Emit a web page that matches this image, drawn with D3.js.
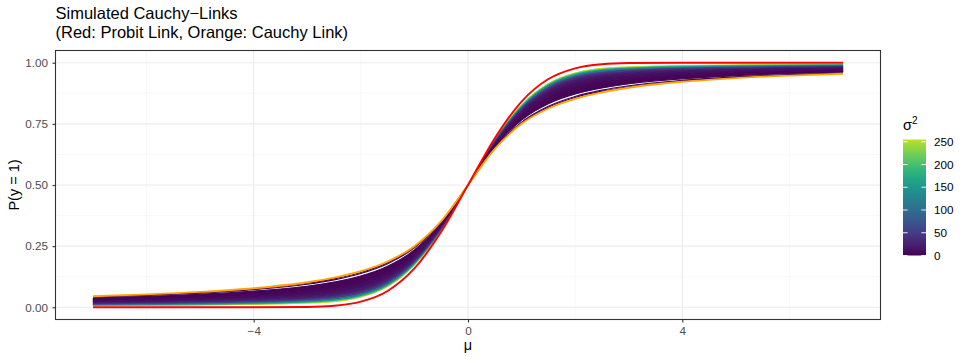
<!DOCTYPE html>
<html>
<head>
<meta charset="utf-8">
<script src="https://cdn.jsdelivr.net/npm/d3@7"></script>
<style>
  body { margin: 0; background: #fff; }
  svg { display: block; font-family: "Liberation Sans", Arial, Helvetica, sans-serif; }
</style>
</head>
<body>
<div id="chart"></div>
<script>
// mu grid shared by every curve
const mu = [-7, -6, -5, -4, -3, -2.5, -2, -1.5, -1, -0.5, 0, 0.5, 1, 1.5, 2, 2.5, 3, 4, 5, 6, 7];

// red: probit link
const probit = [0, 0, 0, 0.00003, 0.0013, 0.0062, 0.0228, 0.0668, 0.1587, 0.3085, 0.5,
  0.6915, 0.8413, 0.9332, 0.9772, 0.9938, 0.9987, 1, 1, 1, 1];

// orange: cauchy link
const cauchy = [0.0452, 0.0526, 0.0628, 0.0780, 0.1024, 0.1211, 0.1476, 0.1872, 0.25, 0.3524, 0.5,
  0.6476, 0.75, 0.8128, 0.8524, 0.8789, 0.8976, 0.9220, 0.9372, 0.9474, 0.9548];

// simulated curves (dense part of the band), sigma^2 of each
const simSigma2 = [255, 200, 150, 100, 50, 25, 12, 6, 3, 1.5];
const simCurves = [
  [0.007,0.008,0.009,0.012,0.017,0.023,0.042,0.085,0.172,0.315,0.5,0.685,0.828,0.915,0.958,0.977,0.983,0.988,0.991,0.992,0.993],
  [0.008,0.009,0.011,0.014,0.020,0.027,0.045,0.088,0.175,0.316,0.5,0.684,0.825,0.912,0.955,0.973,0.980,0.986,0.989,0.991,0.992],
  [0.009,0.011,0.013,0.016,0.023,0.030,0.049,0.092,0.178,0.318,0.5,0.682,0.822,0.908,0.951,0.970,0.977,0.984,0.987,0.989,0.991],
  [0.011,0.013,0.016,0.020,0.027,0.035,0.054,0.097,0.182,0.320,0.5,0.680,0.818,0.903,0.946,0.965,0.973,0.980,0.984,0.987,0.989],
  [0.014,0.016,0.019,0.023,0.032,0.041,0.060,0.103,0.186,0.322,0.5,0.678,0.814,0.897,0.940,0.959,0.968,0.977,0.981,0.984,0.986],
  [0.017,0.020,0.024,0.030,0.040,0.050,0.070,0.113,0.193,0.325,0.5,0.675,0.807,0.887,0.930,0.950,0.960,0.970,0.976,0.980,0.983],
  [0.022,0.025,0.030,0.037,0.050,0.061,0.083,0.125,0.202,0.330,0.5,0.670,0.798,0.875,0.917,0.939,0.950,0.963,0.970,0.975,0.978],
  [0.027,0.032,0.038,0.047,0.062,0.075,0.098,0.139,0.214,0.335,0.5,0.665,0.786,0.861,0.902,0.925,0.938,0.953,0.962,0.968,0.973],
  [0.033,0.038,0.045,0.056,0.074,0.089,0.113,0.153,0.224,0.340,0.5,0.660,0.776,0.847,0.887,0.911,0.926,0.944,0.955,0.962,0.967],
  [0.038,0.044,0.053,0.066,0.086,0.103,0.128,0.168,0.235,0.345,0.5,0.655,0.765,0.832,0.872,0.897,0.914,0.934,0.947,0.956,0.962]
];

// a few sparse curves close to the cauchy line
const sparseSigma2 = [0.6, 0.3];
const sparseCurves = [
  [0.042,0.048,0.058,0.072,0.094,0.112,0.138,0.178,0.243,0.349,0.5,0.651,0.757,0.822,0.862,0.888,0.906,0.928,0.942,0.952,0.958],
  [0.043,0.050,0.060,0.074,0.098,0.116,0.142,0.182,0.246,0.350,0.5,0.650,0.754,0.818,0.858,0.884,0.902,0.926,0.940,0.950,0.957]
];

const xTicks = [-4, 0, 4];
const xMinor = [-6, -2, 2, 6];
const yTicks = [0, 0.25, 0.5, 0.75, 1];
const yMinor = [0.125, 0.375, 0.625, 0.875];
const legendTicks = [0, 50, 100, 150, 200, 250];

const width = 969, height = 363;
const panel = { left: 55.5, right: 880.5, top: 50.5, bottom: 319.5 };

const svg = d3.select("#chart").append("svg")
  .attr("width", width)
  .attr("height", height);

const x = d3.scaleLinear().domain([-7.7, 7.7]).range([panel.left, panel.right]);
const y = d3.scaleLinear().domain([-0.05, 1.05]).range([panel.bottom, panel.top]);

const sigmaMax = 255;
const color = s => d3.interpolateViridis(0.9 * s / sigmaMax);

// grid
const grid = svg.append("g");
grid.selectAll(".ymin").data(yMinor).join("line")
  .attr("x1", panel.left).attr("x2", panel.right)
  .attr("y1", d => y(d)).attr("y2", d => y(d))
  .attr("stroke", "#f3f3f3").attr("stroke-width", 0.55);
grid.selectAll(".xmin").data(xMinor).join("line")
  .attr("y1", panel.top).attr("y2", panel.bottom)
  .attr("x1", d => x(d)).attr("x2", d => x(d))
  .attr("stroke", "#f3f3f3").attr("stroke-width", 0.55);
grid.selectAll(".ymaj").data(yTicks).join("line")
  .attr("x1", panel.left).attr("x2", panel.right)
  .attr("y1", d => y(d)).attr("y2", d => y(d))
  .attr("stroke", "#ebebeb").attr("stroke-width", 1.1);
grid.selectAll(".xmaj").data(xTicks).join("line")
  .attr("y1", panel.top).attr("y2", panel.bottom)
  .attr("x1", d => x(d)).attr("x2", d => x(d))
  .attr("stroke", "#ebebeb").attr("stroke-width", 1.1);

// band of simulated curves
const line = d3.line()
  .x((d, i) => x(mu[i]))
  .y(d => y(d))
  .curve(d3.curveMonotoneX);

const area = d3.area()
  .x(d => x(d.m))
  .y0(d => y(d.lo))
  .y1(d => y(d.hi))
  .curve(d3.curveMonotoneX);

const bands = [];
for (let k = 0; k < simCurves.length - 1; k++) {
  bands.push({
    s: (simSigma2[k] + simSigma2[k + 1]) / 2,
    pts: mu.map((m, i) => ({ m, lo: simCurves[k][i], hi: simCurves[k + 1][i] }))
  });
}

const band = svg.append("g");
band.selectAll("path.fill").data(bands).join("path")
  .attr("class", "fill")
  .attr("d", d => area(d.pts))
  .attr("fill", d => color(d.s))
  .attr("stroke", d => color(d.s))
  .attr("stroke-width", 0.6);

band.selectAll("path.sim").data(simCurves).join("path")
  .attr("class", "sim")
  .attr("d", d => line(d))
  .attr("fill", "none")
  .attr("stroke", (d, i) => color(simSigma2[i]))
  .attr("stroke-width", 1);

band.selectAll("path.sparse").data(sparseCurves).join("path")
  .attr("class", "sparse")
  .attr("d", d => line(d))
  .attr("fill", "none")
  .attr("stroke", (d, i) => color(sparseSigma2[i]))
  .attr("stroke-width", 1.1);

svg.append("path")
  .attr("d", line(cauchy))
  .attr("fill", "none")
  .attr("stroke", "orange")
  .attr("stroke-width", 1.9);

svg.append("path")
  .attr("d", line(probit))
  .attr("fill", "none")
  .attr("stroke", "red")
  .attr("stroke-width", 1.9);

// panel border
svg.append("rect")
  .attr("x", panel.left).attr("y", panel.top)
  .attr("width", panel.right - panel.left)
  .attr("height", panel.bottom - panel.top)
  .attr("fill", "none")
  .attr("stroke", "#333333")
  .attr("stroke-width", 1.1);

// axes
const fmtX = d => d < 0 ? "\u2212" + Math.abs(d) : String(d);
const xAxis = svg.append("g")
  .attr("transform", `translate(0,${panel.bottom})`)
  .call(d3.axisBottom(x).tickValues(xTicks).tickSize(3).tickPadding(4.5).tickFormat(fmtX));
const yAxis = svg.append("g")
  .attr("transform", `translate(${panel.left},0)`)
  .call(d3.axisLeft(y).tickValues(yTicks).tickSize(3).tickPadding(4.5).tickFormat(d3.format(".2f")));

[xAxis, yAxis].forEach(a => {
  a.select(".domain").remove();
  a.selectAll(".tick line").attr("stroke", "#333333").attr("stroke-width", 1.1);
  a.selectAll(".tick text")
    .attr("fill", "#4d4d4d")
    .style("font-size", "11.7px")
    .style("font-family", "'Liberation Sans', Arial, sans-serif");
});

// axis titles
svg.append("text")
  .attr("x", x(0)).attr("y", 350)
  .attr("text-anchor", "middle")
  .style("font-size", "14.5px")
  .text("\u03bc");

svg.append("text")
  .attr("transform", `translate(19,${(panel.top + panel.bottom) / 2}) rotate(-90)`)
  .attr("text-anchor", "middle")
  .style("font-size", "14.5px")
  .text("P(y = 1)");

// title, two lines
svg.append("text")
  .attr("x", panel.left).attr("y", 18.5)
  .style("font-size", "16.5px")
  .text("Simulated Cauchy\u2212Links");
svg.append("text")
  .attr("x", panel.left).attr("y", 37.5)
  .style("font-size", "16.5px")
  .text("(Red: Probit Link, Orange: Cauchy Link)");

// colour bar legend
const bar = { x: 903, w: 23, top: 139.5, bottom: 255.5 };
const ls = d3.scaleLinear().domain([0, sigmaMax]).range([bar.bottom, bar.top]);

const grad = svg.append("defs").append("linearGradient")
  .attr("id", "vgrad")
  .attr("x1", 0).attr("y1", 1).attr("x2", 0).attr("y2", 0);
d3.range(0, 1.0001, 0.05).forEach(t => {
  grad.append("stop").attr("offset", t).attr("stop-color", color(t * sigmaMax));
});

svg.append("rect")
  .attr("x", bar.x).attr("y", bar.top)
  .attr("width", bar.w).attr("height", bar.bottom - bar.top)
  .attr("fill", "url(#vgrad)");

const lt = svg.append("g");
lt.selectAll("line.l").data(legendTicks).join("line")
  .attr("x1", bar.x).attr("x2", bar.x + bar.w / 5)
  .attr("y1", d => ls(d)).attr("y2", d => ls(d))
  .attr("stroke", "white").attr("stroke-width", 0.9);
lt.selectAll("line.r").data(legendTicks).join("line")
  .attr("x1", bar.x + bar.w - bar.w / 5).attr("x2", bar.x + bar.w)
  .attr("y1", d => ls(d)).attr("y2", d => ls(d))
  .attr("stroke", "white").attr("stroke-width", 0.9);
lt.selectAll("text").data(legendTicks).join("text")
  .attr("x", 934).attr("y", d => ls(d))
  .attr("dy", "0.36em")
  .attr("fill", "#000")
  .style("font-size", "11.7px")
  .text(d => d);

const lgTitle = svg.append("text").attr("x", bar.x).attr("y", 130).style("font-size", "14.5px");
lgTitle.append("tspan").text("\u03c3");
lgTitle.append("tspan").attr("dy", -6).style("font-size", "10px").text("2");
</script>
</body>
</html>
